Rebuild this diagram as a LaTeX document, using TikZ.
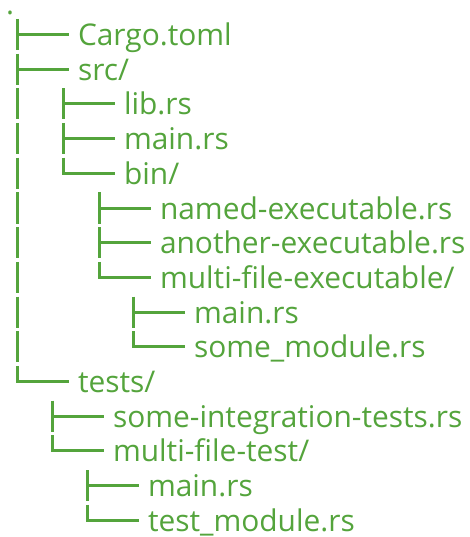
\documentclass[tikz,border=0pt]{standalone}
\usepackage{fontspec}
\setmainfont{Open Sans}
\definecolor{treegreen}{RGB}{84,164,60}
\tikzset{
  treeline/.style={draw=treegreen, line width=3pt, line cap=butt, line join=miter},
  treetext/.style={text=treegreen, font=\fontsize{29.9}{31}\selectfont, anchor=base west, inner sep=0pt, outer sep=0pt}
}
% #1 name, #2 row, #3 x of vertical (px), #4 1 = tee / 0 = last, #5 text
\newcommand\tentry[5]{%
  \pgfmathsetmacro\ry{-(34.5+(#2-1)*34.7)}%
  \coordinate (#1-top) at (#3pt,\ry pt+15.6pt);
  \coordinate (#1-bot) at (#3pt,\ry pt-15.6pt);
  \coordinate (#1-mid) at (#3pt,\ry pt);
  \coordinate (#1-end) at (#3pt+52pt,\ry pt);
  \node[treetext] (#1) at (#3pt+61pt,\ry pt-11pt) {#5};
  \ifnum#4=1
    \draw[treeline] (#1-top) -- (#1-bot);
    \draw[treeline] (#1-mid) -- (#1-end);
  \else
    \draw[treeline] (#1-top) -- (#1-mid) -- (#1-end);
  \fi
}
% pass-through vertical bar in a row
\newcommand\tpass[3]{%
  \pgfmathsetmacro\ry{-(34.5+(#2-1)*34.7)}%
  \coordinate (#1-a) at (#3pt,\ry pt+15.6pt);
  \coordinate (#1-b) at (#3pt,\ry pt-15.6pt);
  \draw[treeline] (#1-a) -- (#1-b);
}
\begin{document}
\begin{tikzpicture}[x=1pt,y=1pt]
\useasboundingbox (0,0) rectangle (469,-537);
\node[treetext, text height=4pt, text depth=0pt] (root) at (6,-15) {.};
\tentry{cargo}{1}{17}{1}{Cargo.toml}
\tentry{src}{2}{17}{1}{src/}
\tentry{lib}{3}{63}{1}{lib.rs}
\tentry{smain}{4}{63}{1}{main.rs}
\tentry{bin}{5}{63}{0}{bin/}
\tentry{named}{6}{99}{1}{named-executable.rs}
\tentry{another}{7}{99}{1}{another-executable.rs}
\tentry{mfe}{8}{99}{0}{multi-file-executable/}
\tentry{mfemain}{9}{133}{1}{main.rs}
\tentry{mfemod}{10}{133}{0}{some\_module.rs}
\tentry{tests}{11}{17}{0}{tests/}
\tentry{sit}{12}{52}{1}{some-integration-tests.rs}
\tentry{mft}{13}{52}{0}{multi-file-test/}
\tentry{mftmain}{14}{87}{1}{main.rs}
\tentry{mftmod}{15}{87}{0}{test\_module.rs}
\tpass{p3}{3}{17}
\tpass{p4}{4}{17}
\tpass{p5}{5}{17}
\tpass{p6}{6}{17}
\tpass{p7}{7}{17}
\tpass{p8}{8}{17}
\tpass{p9}{9}{17}
\tpass{p10}{10}{17}
\end{tikzpicture}
\end{document}
